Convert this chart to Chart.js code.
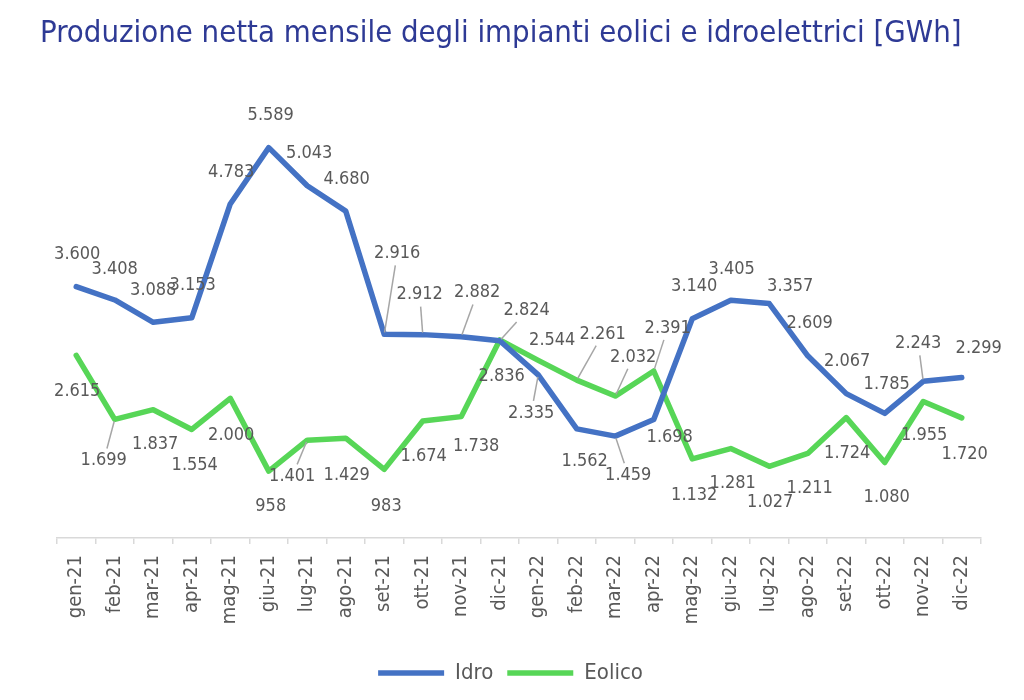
<!DOCTYPE html>
<html lang="it">
<head>
<meta charset="utf-8">
<title>Produzione netta mensile</title>
<script src="https://cdn.jsdelivr.net/npm/chart.js@4.4.1/dist/chart.umd.min.js"></script>
<style>
  body { margin: 0; background: #fff; }
  #box { width: 1024px; height: 700px; }
</style>
</head>
<body>
<div id="box"><canvas id="grafico"></canvas></div>
<script>
const mesi = ['gen-21', 'feb-21', 'mar-21', 'apr-21', 'mag-21', 'giu-21', 'lug-21', 'ago-21', 'set-21', 'ott-21', 'nov-21', 'dic-21',
              'gen-22', 'feb-22', 'mar-22', 'apr-22', 'mag-22', 'giu-22', 'lug-22', 'ago-22', 'set-22', 'ott-22', 'nov-22', 'dic-22'];
const idro = [3600, 3408, 3088, 3153, 4783, 5589, 5043, 4680, 2916, 2912, 2882, 2824,
              2335, 1562, 1459, 1698, 3140, 3405, 3357, 2609, 2067, 1785, 2243, 2299];
const eolico = [2615, 1699, 1837, 1554, 2000, 958, 1401, 1429, 983, 1674, 1738, 2836,
                2544, 2261, 2032, 2391, 1132, 1281, 1027, 1211, 1724, 1080, 1955, 1720];

// posizione delle etichette rispetto al punto [dx, dy, linea guida]
const posIdro = [[1,-32],[0,-31],[0,-32],[1,-32],[1,-32],[2,-32],[2,-32],[1,-32],
                 [13,-81,1],[-3,-40,1],[16,-44,1],[27,-30,1],[-7,38,1],[8,32],[13,39,1],[16,18],
                 [2,-32],[1,-31],[21,-17],[2,-32],[1,-32],[2,-29],[-5,-38,1],[17,-29]];
const posEolico = [[1,36],[-11,41,1],[2,35],[3,36],[1,37],[2,35],[-15,36,1],[1,37],
                   [2,37],[1,35],[15,30],[2,36],[14,-20],[26,-46,1],[18,-39,1],[14,-43,1],
                   [2,36],[2,35],[1,36],[2,35],[1,36],[2,35],[1,34],[3,36]];

const FONT = '"DejaVu Sans Condensed", "DejaVu Sans", sans-serif';
const GRIGIO = '#595959';

function formatta(v) {
    return String(v).replace(/\B(?=(\d{3})+(?!\d))/g, '.');
}

const etichette = {
    id: 'etichette',
    afterDatasetsDraw(chart) {
        const ctx = chart.ctx;
        const posizioni = [posIdro, posEolico];
        ctx.save();
        ctx.font = '18px ' + FONT;
        ctx.textAlign = 'center';
        ctx.textBaseline = 'middle';
        chart.data.datasets.forEach((ds, d) => {
            const meta = chart.getDatasetMeta(d);
            meta.data.forEach((pt, i) => {
                const p = posizioni[d][i];
                const lx = pt.x + p[0];
                const ly = pt.y + p[1];
                const testo = formatta(ds.data[i]);
                if (p[2]) {
                    const vx = pt.x - lx, vy = pt.y - ly;
                    const len = Math.hypot(vx, vy);
                    const hw = ctx.measureText(testo).width / 2, hh = 9;
                    const t = Math.min(vx ? hw / Math.abs(vx) : 99, vy ? hh / Math.abs(vy) : 99);
                    const sx = lx + vx * t + vx / len * 3;
                    const sy = ly + vy * t + vy / len * 3;
                    ctx.strokeStyle = '#A6A6A6';
                    ctx.lineWidth = 1.5;
                    ctx.beginPath();
                    ctx.moveTo(sx, sy);
                    ctx.lineTo(pt.x - vx / len * 2, pt.y - vy / len * 2);
                    ctx.stroke();
                }
                ctx.fillStyle = GRIGIO;
                ctx.fillText(testo, lx, ly);
            });
        });
        ctx.restore();
    }
};

new Chart(document.getElementById('grafico'), {
    type: 'line',
    data: {
        labels: mesi,
        datasets: [
            { label: 'Idro', data: idro, borderColor: '#4472C4', backgroundColor: '#4472C4', borderWidth: 5.5 },
            { label: 'Eolico', data: eolico, borderColor: '#57D657', backgroundColor: '#57D657', borderWidth: 5.5 }
        ]
    },
    options: {
        responsive: true,
        maintainAspectRatio: false,
        animation: false,
        elements: {
            line: { tension: 0, borderCapStyle: 'round', borderJoinStyle: 'round' },
            point: { radius: 0, hoverRadius: 0 }
        },
        layout: { padding: { left: 40, right: 43, top: 0, bottom: 6 } },
        scales: {
            x: {
                offset: true,
                grid: { offset: true, drawOnChartArea: false, tickLength: 6, color: '#D9D9D9', lineWidth: 1.5 },
                border: { color: '#D9D9D9', width: 1.5 },
                ticks: { color: GRIGIO, font: { family: FONT, size: 20 }, minRotation: 90, maxRotation: 90, autoSkip: false, padding: 11 },
                afterFit(scale) { scale.height = 110; }
            },
            y: {
                min: 0,
                max: 6000,
                ticks: { display: false },
                grid: { display: false },
                border: { display: false },
                afterFit(scale) { scale.width = 17; }
            }
        },
        plugins: {
            title: {
                display: true,
                text: 'Produzione netta mensile degli impianti eolici e idroelettrici [GWh]',
                align: 'start',
                color: '#2E3A95',
                font: { family: FONT, size: 30.8, weight: 'normal' },
                padding: { top: 16, bottom: 66 }
            },
            legend: {
                position: 'bottom',
                labels: {
                    usePointStyle: true,
                    pointStyle: 'line',
                    pointStyleWidth: 66,
                    color: GRIGIO,
                    font: { family: FONT, size: 22 },
                    padding: 14
                }
            },
            tooltip: { enabled: false }
        }
    },
    plugins: [etichette]
});
</script>
</body>
</html>
